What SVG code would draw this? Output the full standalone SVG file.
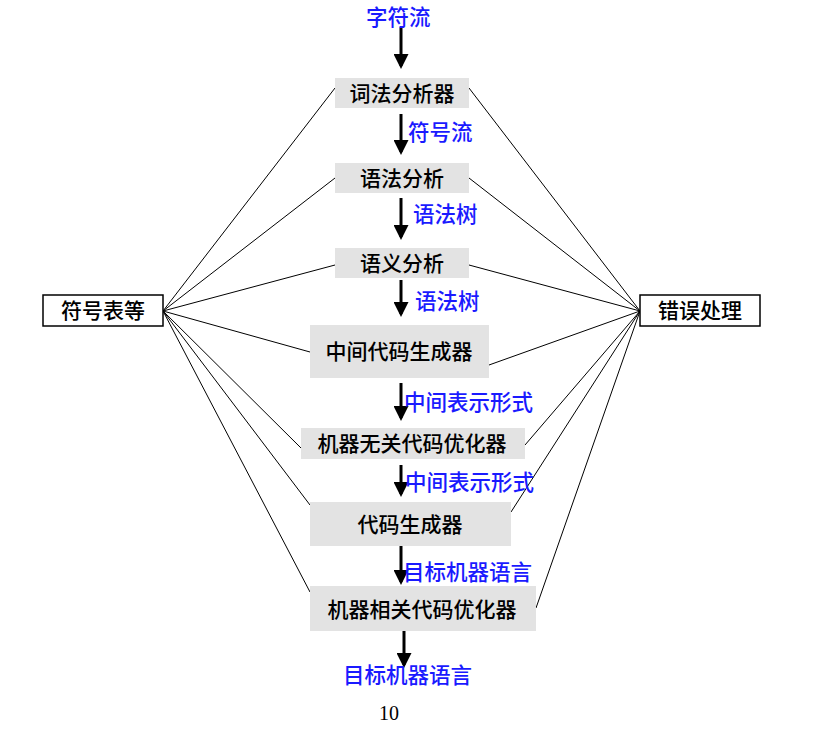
<svg xmlns="http://www.w3.org/2000/svg" width="821" height="733" viewBox="0 0 821 733">
<style>
.b{fill:#e3e3e3}
.s{fill:#fff;stroke:#000;stroke-width:1.5}
.t{font-family:"Noto Sans CJK SC",sans-serif;font-size:21px;font-weight:500;fill:#000;text-anchor:middle}
.l{font-family:"Noto Sans CJK SC",sans-serif;font-size:21.5px;fill:#1a1aff;font-weight:500}
.c{stroke:#000;stroke-width:1;fill:none}
.a{stroke:#000;stroke-width:3;marker-end:url(#ah)}
</style>
<defs><marker id="ah" markerWidth="5" markerHeight="5" refX="4" refY="2.5" orient="auto"><path d="M0,0L5,2.5L0,5z" fill="#000"/></marker></defs>
<rect width="821" height="733" fill="#fff"/>
<g id="connectors">
<path class="c" d="M163,311L335,88M163,311L335,178M163,311L335,265M163,311L310,352M163,311L301,448M163,311L310,505M163,311L310,592"/>
<path class="c" d="M640,311L469,88M640,311L469,178M640,311L469,265M640,311L489,365M640,311L525,445M640,311L511,512M640,311L536,608"/>
<line class="a" x1="401" y1="27" x2="401" y2="66"/>
<line class="a" x1="401" y1="114" x2="401" y2="152"/>
<line class="a" x1="401" y1="198" x2="401" y2="237"/>
<line class="a" x1="401" y1="280" x2="401" y2="314"/>
<line class="a" x1="401" y1="383" x2="401" y2="418"/>
<line class="a" x1="401" y1="465" x2="401" y2="494"/>
<line class="a" x1="401" y1="546" x2="401" y2="582"/>
<line class="a" x1="404" y1="631" x2="404" y2="665"/>
</g>
<g id="n1"><rect class="b" x="335" y="78" width="134" height="30"/><text class="t" x="402" y="101">词法分析器</text></g>
<g id="n2"><rect class="b" x="335" y="163" width="134" height="30"/><text class="t" x="402" y="186">语法分析</text></g>
<g id="n3"><rect class="b" x="335" y="248" width="134" height="30"/><text class="t" x="402" y="271">语义分析</text></g>
<g id="n4"><rect class="b" x="310" y="325" width="179" height="53"/><text class="t" x="399" y="359">中间代码生成器</text></g>
<g id="n5"><rect class="b" x="301" y="428" width="224" height="31"/><text class="t" x="412" y="451">机器无关代码优化器</text></g>
<g id="n6"><rect class="b" x="310" y="502" width="201" height="44"/><text class="t" x="410" y="532">代码生成器</text></g>
<g id="n7"><rect class="b" x="310" y="586" width="226" height="45"/><text class="t" x="422" y="617">机器相关代码优化器</text></g>
<g id="left"><rect class="s" x="43" y="295" width="120" height="31"/><text class="t" x="103" y="318">符号表等</text></g>
<g id="right"><rect class="s" x="640" y="295" width="120" height="31"/><text class="t" x="700" y="318">错误处理</text></g>
<g id="labels">
<text class="l" x="366" y="25">字符流</text>
<text class="l" x="408" y="140">符号流</text>
<text class="l" x="413" y="222">语法树</text>
<text class="l" x="415" y="309">语法树</text>
<text class="l" x="404" y="410">中间表示形式</text>
<text class="l" x="405" y="490">中间表示形式</text>
<text class="l" x="403" y="580">目标机器语言</text>
<text class="l" x="343" y="683">目标机器语言</text>
<text x="389" y="720" font-family="Liberation Serif,serif" font-size="20" text-anchor="middle">10</text>
</g>
</svg>
